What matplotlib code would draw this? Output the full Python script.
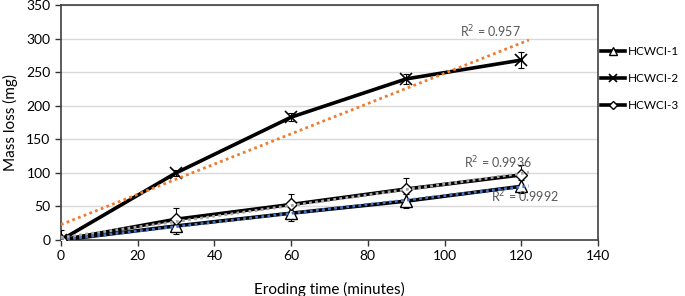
import numpy as np
import matplotlib
matplotlib.use("Agg")
import matplotlib.pyplot as plt

plt.rcParams['font.family'] = ['Lato', 'DejaVu Sans']

time = [0, 30, 60, 90, 120]
hc1 = [0, 21, 40, 58, 80]
hc2 = [0, 100, 183, 240, 268]
hc3 = [0, 31, 53, 76, 97]
err1 = [3, 12, 12, 10, 10]
err2 = [3, 4, 6, 8, 12]
err3 = [15, 16, 16, 16, 15]
labels = ["HCWCI-1", "HCWCI-2", "HCWCI-3"]
r2_text = ["R$^2$ = 0.9992", "R$^2$ = 0.957", "R$^2$ = 0.9936"]

fig = plt.figure(figsize=(6.85, 2.96), dpi=100)
ax = fig.add_axes([0.089, 0.189, 0.784, 0.794])

x = np.array(time, dtype=float)
xt = np.array([0, 122])

def trend(y, color, lw):
    y = np.array(y, dtype=float)
    m, b = np.polyfit(x, y, 1)
    ax.plot(xt, m * xt + b, linestyle=(0, (1, 1.2)), color=color, lw=lw, zorder=5)

series = [(hc1, err1, '^', labels[0]), (hc2, err2, 'x', labels[1]), (hc3, err3, 'D', labels[2])]
handles = []
for y, e, mk, lab in series:
    ax.errorbar(time, y, yerr=e, fmt='none', ecolor='black', elinewidth=0.8, capsize=2.5, capthick=0.8, zorder=3)
    if mk == 'x':
        h, = ax.plot(time, y, color='black', lw=2.6, marker='x', ms=9, mew=1.2,
                     mec='black', label=lab, zorder=4)
    else:
        ms = 8 if mk == '^' else 6.5
        h, = ax.plot(time, y, color='black', lw=2.6, marker=mk, ms=ms, mew=1.0,
                     mfc='white', mec='black', label=lab, zorder=4)
    handles.append(h)

trend(hc2, '#ED7D31', 2.0)
trend(hc1, '#4472C4', 2.0)
trend(hc3, '#A5A5A5', 2.0)

tc = '#595959'
ax.text(112, 298, r2_text[1], color=tc, fontsize=9, ha='center', va='bottom', zorder=6)
ax.text(114, 103, r2_text[2], color=tc, fontsize=9, ha='center', va='bottom', zorder=6)
ax.text(121, 52, r2_text[0], color=tc, fontsize=9, ha='center', va='bottom', zorder=6)

ax.set_xlim(0, 140)
ax.set_ylim(0, 350)
ax.set_xticks(range(0, 141, 20))
ax.set_yticks(range(0, 351, 50))
ax.tick_params(axis='both', labelsize=10, length=4, width=1, direction='out', color='#333333')
ax.yaxis.grid(True, color='#D9D9D9', lw=1)
ax.set_axisbelow(True)
for s in ax.spines.values():
    s.set_color('#404040')
    s.set_linewidth(1.2)
ax.set_xlabel("Eroding time (minutes)", fontsize=11, labelpad=14)
ax.set_ylabel("Mass loss (mg)", fontsize=11, labelpad=6)

leg = fig.legend(handles=handles, labels=labels, loc='upper left', bbox_to_anchor=(0.878, 0.845),
                 frameon=False, fontsize=8.5, handlelength=2.0, labelspacing=1.35, handletextpad=0.2,
                 borderaxespad=0, borderpad=0, markerscale=0.65)

fig.savefig("out.png", dpi=100)
